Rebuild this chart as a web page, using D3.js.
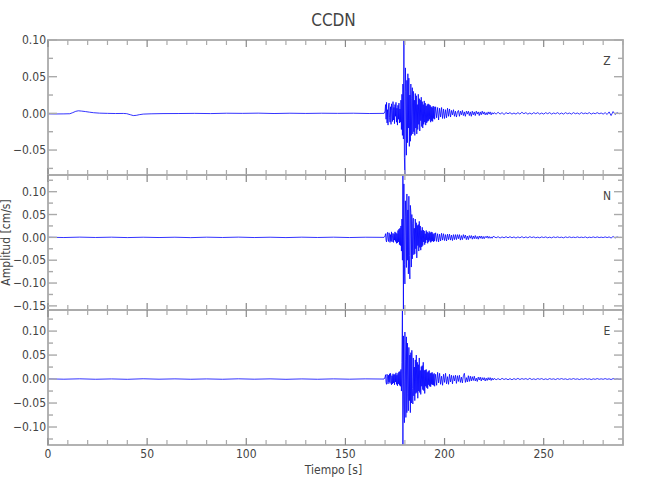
<!DOCTYPE html>
<html>
<head>
<meta charset="utf-8">
<script src="https://cdn.jsdelivr.net/npm/d3@7"></script>
<style>
  body { margin: 0; background: #fff; }
  svg { display: block; }
  text { font-family: "Liberation Sans Narrow", "DejaVu Sans Condensed", "Roboto", sans-serif; }
</style>
</head>
<body>
<svg id="chart" width="650" height="500"></svg>
<script>
// ---------------- data ----------------
const title = "CCDN";
const components = ["Z", "N", "E"];
const xLabel = "Tiempo [s]";
const yLabel = "Amplitud [cm/s]";
const xDomain = [0, 290];
const xTicks = [0, 50, 100, 150, 200, 250];
const xMinorStep = 10;

const yDomainZ = [-0.084, 0.100];
const yDomainN = [-0.159, 0.1365];
const yDomainE = [-0.1375, 0.144];
const yTicksZ = [-0.05, 0.00, 0.05, 0.10];
const yTicksN = [-0.15, -0.10, -0.05, 0.00, 0.05, 0.10];
const yTicksE = [-0.10, -0.05, 0.00, 0.05, 0.10];
const yMinorStep = 0.025;

// quiet part before the arrival: explicit sample times (s) and values (cm/s)
const zPreT = [0, 4, 8, 11, 12.5, 14, 15.3, 17, 19, 21, 23, 26, 30, 34, 38, 39.7, 41.5, 43, 44.5, 46, 48, 52, 58, 66, 74, 82, 90, 98, 106, 114, 122, 130, 138, 146, 154, 162, 169.5];
const zPreV = [-0.0007, -0.0008, -0.0007, -0.0005, 0.001, 0.0028, 0.0035, 0.0031, 0.0024, 0.0016, 0.0009, 0.0003, 0.0000, -0.0002, -0.0001, -0.0004, -0.0018, -0.0030, -0.0027, -0.0018, -0.0010, -0.0006, -0.0003, -0.0002, 0.0000, -0.0003, 0.0002, 0.0000, 0.0003, -0.0002, 0.0002, -0.0001, 0.0002, 0.0000, 0.0002, -0.0002, 0.0000];
const nPreT = [0, 8, 16, 24, 32, 40, 48, 56, 64, 72, 80, 88, 96, 104, 112, 120, 128, 136, 144, 152, 160, 169.5];
const nPreV = [0.0003, -0.0004, 0.0005, -0.0003, 0.0004, -0.0005, 0.0003, -0.0004, 0.0003, -0.0006, 0.0004, -0.0003, 0.0005, -0.0004, 0.0003, -0.0005, 0.0004, -0.0003, 0.0004, -0.0004, 0.0003, 0.0000];
const ePreT = [0, 8, 16, 24, 32, 40, 48, 56, 64, 72, 80, 88, 96, 104, 112, 120, 128, 136, 144, 152, 160, 169.5];
const ePreV = [0.0004, -0.0003, 0.0005, -0.0004, 0.0003, -0.0005, 0.0006, -0.0003, 0.0004, -0.0004, 0.0003, -0.0004, 0.0005, -0.0003, 0.0004, -0.0005, 0.0003, -0.0004, 0.0004, -0.0003, 0.0004, 0.0000];

// strong motion part 1: every 0.25 s from 170 s (100 samples)
const strong1T0 = 170;
const strong1Dt = 0.25;
const zStrong1 = [0.003, 0.012, -0.008, 0.015, -0.013, 0.005, -0.016, 0.010, 0.014, -0.006, -0.012, 0.009, -0.015, 0.013, 0.004, -0.011,
  0.016, -0.009, 0.008, -0.014, 0.012, -0.004, 0.015, -0.012, 0.007, -0.016, 0.011, -0.008, 0.014, -0.013, 0.006, -0.012,
  0.018, -0.022, 0.026, -0.030, 0.040, -0.035,
  0.100, -0.060, -0.084, 0.062, 0.030, -0.057, 0.045,
  -0.040, 0.054, -0.020, 0.048, -0.045, 0.025, -0.038, 0.040, -0.030, 0.020, 0.035, -0.028, 0.030, -0.025, 0.018, -0.030,
  0.027, -0.020, 0.024, -0.028, 0.012, -0.022, 0.026, -0.015, 0.020, -0.024, 0.018, -0.010, 0.022, -0.018, 0.016, -0.020, 0.012, -0.015, 0.017, -0.012, 0.014, -0.016, 0.010, -0.013, 0.012, -0.011, 0.013,
  -0.010, 0.012, -0.008, 0.011, -0.012, 0.009, -0.010, 0.008, -0.011, 0.010, -0.007, 0.009];
const nStrong1 = [0.003, 0.008, -0.006, -0.010, 0.007, 0.011, -0.004, -0.009, 0.010, 0.005, -0.011, 0.006, -0.008, 0.012, -0.010, 0.004,
  0.009, -0.011, 0.007, -0.006, 0.012, -0.009, 0.010, -0.013, 0.008, -0.012, 0.015, -0.010, 0.018, -0.016, 0.020, -0.018,
  0.025, -0.030, 0.040, -0.050,
  0.1365, -0.159, 0.117, -0.060, -0.102, 0.080, 0.045, -0.066,
  0.095, -0.050, 0.060, -0.080, 0.090, -0.040, -0.091, 0.070, 0.055, -0.065, 0.050, -0.047,
  0.030, 0.042, -0.038, 0.020, -0.036, 0.040, -0.025, 0.032, -0.045, 0.026, -0.018, 0.028, -0.030, 0.035, -0.022, 0.025, -0.028, 0.015, -0.021, 0.022,
  -0.018, 0.016, -0.010, 0.014, -0.016, 0.008, -0.012, 0.015, -0.006, 0.012, -0.013, 0.009, -0.010, 0.013, -0.007, 0.010, -0.011, 0.012, -0.009, 0.011, -0.008, 0.007, -0.010, 0.009];
const eStrong1 = [0.004, 0.009, -0.007, -0.011, 0.010, 0.005, -0.010, 0.008, -0.006, 0.011, -0.009, 0.012, 0.004, -0.012, 0.007, -0.010,
  0.011, -0.008, 0.009, -0.012, 0.010, -0.006, 0.013, -0.011, 0.008, -0.014, 0.012, -0.010, 0.015, -0.013, 0.016, -0.015,
  0.020, -0.025, 0.035,
  0.144, -0.1375, 0.090, -0.050, -0.091, 0.098, 0.040, -0.080,
  0.088, -0.070, 0.075, -0.030, -0.066, 0.066, -0.045, 0.050, -0.070, 0.055,
  -0.050, 0.060, -0.020, -0.052, 0.044, -0.035, 0.025, -0.045, 0.040, -0.030, 0.050, -0.028, 0.035, -0.040, 0.030, -0.025,
  0.044, -0.028, 0.018, -0.032, 0.026, -0.015, 0.028, -0.022, 0.035, -0.024, 0.018, -0.030, 0.019, -0.015, 0.020, -0.018, 0.014, -0.020, 0.016, -0.012, 0.018, -0.015, 0.012, -0.016, 0.013, -0.011, 0.014, -0.012, 0.010, -0.013, 0.012];

// strong motion part 2: every 0.5 s after part 1 (60 samples)
const strong2Dt = 0.5;
const zStrong2 = [-0.008, 0.009, -0.006, 0.008, -0.009, 0.007, -0.005, 0.008, -0.007, 0.006, -0.007, 0.005, -0.006, 0.007, -0.004, 0.006,
  -0.005, 0.004, -0.002, 0.005, -0.004, 0.003, -0.005, 0.002, 0.004, -0.004, 0.003, -0.002, 0.004, -0.003, 0.002, -0.004, 0.003, -0.001, 0.003, -0.003,
  0.002, -0.004, 0.003, -0.002, 0.002, -0.003, 0.003, -0.001, 0.002, -0.003, 0.002, -0.002, 0.003, -0.001, 0.002, -0.002, 0.001, -0.002, 0.002, -0.001,
  0.002, -0.002, 0.001, -0.001];
const nStrong2 = [-0.008, 0.010, -0.009, 0.008, -0.010, 0.007, -0.008, 0.009, -0.006, 0.008, -0.007, 0.006, -0.008, 0.007, -0.005, 0.007, -0.006, 0.005, -0.007, 0.006, -0.005, 0.006,
  -0.005, 0.006, -0.003, 0.006, -0.006, 0.004, -0.005, 0.006, -0.002, 0.005, -0.005, 0.003, -0.005, 0.004, -0.002, 0.004, -0.004, 0.003, -0.003, 0.004,
  -0.003, 0.002, -0.004, 0.003, -0.002, 0.003, -0.003, 0.002, -0.003, 0.002, -0.001, 0.003, -0.002, 0.002, -0.002, 0.001, -0.002, 0.002];
const eStrong2 = [-0.015, 0.010, -0.013, 0.014, -0.008, 0.012, -0.011, 0.006, -0.013, 0.010, -0.007, 0.012, -0.010, 0.005, -0.011, 0.010, -0.006, 0.008, -0.010, 0.007,
  -0.004, 0.008, -0.009, 0.007, -0.005, 0.008, -0.007, 0.004, -0.008, 0.007, 0.012, -0.007, 0.003, -0.006, 0.007, -0.005, 0.006, -0.004, 0.005,
  -0.003, 0.006, -0.004, 0.002, -0.005, 0.004, -0.002, 0.004, -0.004, 0.003, -0.002, 0.003, -0.004, 0.002, -0.003, 0.003, -0.002, 0.003, -0.003, 0.002, -0.002];

// coda, sampled every 1 s after the strong part
const codaDt = 1;
const zCoda = [0.001, -0.001, 0.0015, -0.001, 0.001, -0.0015, 0.001, -0.0005, 0.001, -0.001, 0.0005, -0.001, 0.001, -0.001, 0.0015, -0.0005,
  0.001, -0.001, 0.0005, -0.001, 0.001, -0.0005, 0.001, -0.001, 0.0005, -0.001, 0.001, -0.0005, 0.001, -0.001, 0.0005, -0.0005,
  0.001, -0.001, 0.0005, -0.001, 0.001, -0.0005, 0.0005, -0.001, 0.001, -0.0005, 0.0005, -0.001, 0.001, -0.0005, 0.0005, -0.0005,
  0.001, -0.001, 0.0005, -0.0005, 0.001, -0.0005, 0.0005, -0.001, 0.001, -0.0015, 0.002, -0.003, 0.0025, -0.0015, 0.001, -0.0005, 0.000];
const nCoda = [0.0015, -0.001, 0.0015, -0.0015, 0.001, -0.001, 0.0015, -0.001, 0.0015, -0.001, 0.001, -0.0015, 0.001, -0.001, 0.0015, -0.001,
  0.001, -0.001, 0.0015, -0.0005, 0.001, -0.001, 0.0005, -0.001, 0.001, -0.0005, 0.001, -0.001, 0.0005, -0.001, 0.001, -0.0005,
  0.001, -0.0005, 0.0005, -0.001, 0.001, -0.0005, 0.001, -0.0005, 0.0005, -0.0005, 0.001, -0.0005, 0.0005, -0.0005, 0.001, -0.001,
  0.0005, -0.0005, 0.001, -0.0005, 0.001, -0.0005, 0.0005, -0.0005, 0.001, -0.0005, 0.001, -0.0015, 0.002, -0.0015, 0.001, -0.0005, 0.000];
const eCoda = [0.0015, -0.0015, 0.001, -0.0015, 0.0015, -0.001, 0.001, -0.0015, 0.001, -0.0015, 0.001, -0.001, 0.0015, -0.001, 0.001, -0.0005,
  0.001, -0.001, 0.0015, -0.001, 0.0005, -0.001, 0.001, -0.0005, 0.001, -0.001, 0.0005, -0.001, 0.001, -0.0005, 0.0005, -0.001,
  0.001, -0.0005, 0.001, -0.0005, 0.0005, -0.001, 0.0005, -0.0005, 0.001, -0.0005, 0.0005, -0.001, 0.0005, -0.0005, 0.001, -0.0005,
  0.0005, -0.001, 0.0005, -0.0005, 0.001, -0.0005, 0.0005, -0.0005, 0.001, -0.0005, 0.0005, -0.001, 0.001, -0.0005, 0.0005, -0.0005, 0.000];

// ---------------- build ----------------
function buildTrace(preT, preV, s1, s2, coda) {
  const pts = preT.map((t, i) => [t, preV[i]]);
  s1.forEach((v, i) => pts.push([strong1T0 + i * strong1Dt, v]));
  const s2T0 = strong1T0 + s1.length * strong1Dt;
  s2.forEach((v, i) => pts.push([s2T0 + i * strong2Dt, v]));
  const codaT0 = s2T0 + s2.length * strong2Dt;
  coda.forEach((v, i) => pts.push([codaT0 + i * codaDt, v]));
  return pts.filter(p => p[0] <= xDomain[1]);
}
const panels = [
  { name: components[0], domain: yDomainZ, ticks: yTicksZ, data: buildTrace(zPreT, zPreV, zStrong1, zStrong2, zCoda) },
  { name: components[1], domain: yDomainN, ticks: yTicksN, data: buildTrace(nPreT, nPreV, nStrong1, nStrong2, nCoda) },
  { name: components[2], domain: yDomainE, ticks: yTicksE, data: buildTrace(ePreT, ePreV, eStrong1, eStrong2, eCoda) }
];

const svg = d3.select("#chart");
const plotLeft = 48, plotRight = 623, plotTop = 40, panelH = 135;
const axisColor = "#aaaaaa";
const textColor = "#444444";

const x = d3.scaleLinear().domain(xDomain).range([plotLeft, plotRight]);
const fmt = v => d3.format(".2f")(v).replace("-", "\u2212");

svg.append("text").attr("x", (plotLeft + plotRight) / 2 - 2).attr("y", 26)
  .attr("text-anchor", "middle").attr("font-size", 17).attr("fill", textColor).text(title);

const xMinor = d3.range(xDomain[0], xDomain[1] + 0.001, xMinorStep);

panels.forEach((p, k) => {
  const y0 = plotTop + k * panelH, y1 = y0 + panelH;
  const y = d3.scaleLinear().domain(p.domain).range([y1, y0]);
  const g = svg.append("g");

  const clipId = "clip" + k;
  svg.append("clipPath").attr("id", clipId).append("rect")
    .attr("x", plotLeft).attr("y", y0).attr("width", plotRight - plotLeft).attr("height", panelH);

  g.append("path").datum(p.data)
    .attr("clip-path", `url(#${clipId})`)
    .attr("fill", "none").attr("stroke", "#0000ff").attr("stroke-width", 0.8)
    .attr("d", d3.line().x(d => x(d[0])).y(d => y(d[1])));

  g.append("rect").attr("x", plotLeft).attr("y", y0).attr("width", plotRight - plotLeft).attr("height", panelH)
    .attr("fill", "none").attr("stroke", axisColor).attr("stroke-width", 1.8);

  xMinor.forEach(t => {
    const major = xTicks.includes(t);
    const len = major ? 7 : 5;
    g.append("line").attr("x1", x(t)).attr("x2", x(t)).attr("y1", y1).attr("y2", y1 - len)
      .attr("stroke", major ? "#888" : axisColor).attr("stroke-width", 1.2);
    g.append("line").attr("x1", x(t)).attr("x2", x(t)).attr("y1", y0).attr("y2", y0 + len)
      .attr("stroke", major ? "#888" : axisColor).attr("stroke-width", 1.2);
  });

  const yMinor = d3.range(Math.ceil(p.domain[0] / yMinorStep) * yMinorStep, p.domain[1] + 1e-9, yMinorStep)
    .map(v => Math.round(v * 1000) / 1000);
  yMinor.forEach(v => {
    const major = p.ticks.some(t => Math.abs(t - v) < 1e-6);
    const len = major ? 9 : 5;
    g.append("line").attr("x1", plotLeft).attr("x2", plotLeft + len).attr("y1", y(v)).attr("y2", y(v))
      .attr("stroke", axisColor).attr("stroke-width", 1.4);
    g.append("line").attr("x1", plotRight).attr("x2", plotRight - len).attr("y1", y(v)).attr("y2", y(v))
      .attr("stroke", axisColor).attr("stroke-width", 1.4);
  });
  p.ticks.forEach(v => {
    g.append("text").attr("x", plotLeft - 2).attr("y", y(v)).attr("dy", "0.35em")
      .attr("text-anchor", "end").attr("font-size", 12).attr("fill", textColor).text(fmt(v));
  });

  g.append("text").attr("x", plotRight - 16).attr("y", y0 + 25)
    .attr("text-anchor", "middle").attr("font-size", 12).attr("fill", textColor).text(p.name);
});

const yBottom = plotTop + panels.length * panelH;
xTicks.forEach(t => {
  svg.append("text").attr("x", x(t)).attr("y", yBottom + 13)
    .attr("text-anchor", "middle").attr("font-size", 12).attr("fill", textColor).text(t);
});
svg.append("text").attr("x", (plotLeft + plotRight) / 2 - 2).attr("y", yBottom + 29)
  .attr("text-anchor", "middle").attr("font-size", 12).attr("fill", textColor).text(xLabel);

svg.append("text")
  .attr("transform", `translate(10,${plotTop + 1.5 * panelH}) rotate(-90)`)
  .attr("text-anchor", "middle").attr("font-size", 12).attr("fill", textColor).text(yLabel);
</script>
</body>
</html>
